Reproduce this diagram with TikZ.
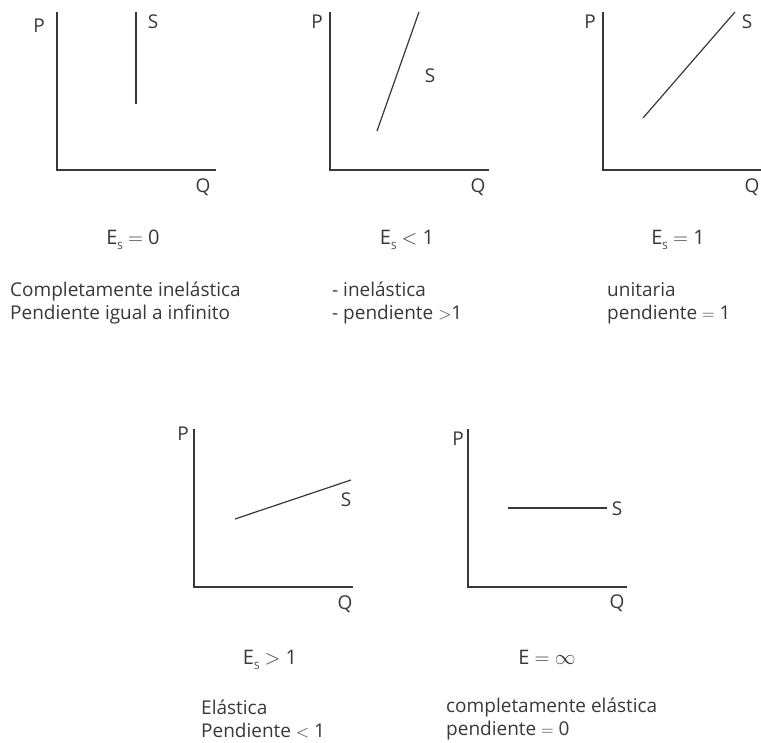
\documentclass[tikz,border=0pt]{standalone}
\usepackage{fontspec}
\setmainfont{Open Sans}
\usetikzlibrary{positioning}
\definecolor{elink}{HTML}{383838}
\newcommand{\subS}{\raisebox{-0.28em}{\fontsize{10}{10}\selectfont S}}
\tikzset{
  ax/.style={draw=elink, line width=1.7pt},
  crv/.style={draw=elink, line width=1.2pt},
  lab/.style={font=\fontsize{19}{21}\selectfont, text=elink, inner sep=0pt},
  eqn/.style={lab, font=\fontsize{20}{22}\selectfont},
  dsc/.style={lab, anchor=west, align=left, font=\fontsize{19}{23}\selectfont},
}
\begin{document}
\begin{tikzpicture}[x=1pt, y=-1pt]
  \useasboundingbox (0,0) rectangle (761,743);
  % axes of the five panels
  \foreach \n/\x/\y in {a/57/170, b/330/170, c/603/170, d/194/587, e/468/587} {
    \coordinate (o\n) at (\x,\y);
    \coordinate (p\n) at (\x,\y-158);
    \coordinate (q\n) at (\x+159,\y);
    \draw[ax] (p\n) -- (o\n) -- (q\n);
  }
  % axis labels
  \node[lab] (pla) at (39,26) {P};
  \node[lab] (qla) at (203,187) {Q};
  \node[lab] (plb) at (317,22) {P};
  \node[lab] (qlb) at (478,187) {Q};
  \node[lab] (plc) at (590,22) {P};
  \node[lab] (qlc) at (752,187) {Q};
  \node[lab] (pld) at (183,434) {P};
  \node[lab] (qld) at (345,604) {Q};
  \node[lab] (ple) at (458,439) {P};
  \node[lab] (qle) at (617,603) {Q};
  % supply curves
  \coordinate (sa0) at (136,104); \coordinate (sa1) at (136,12);
  \coordinate (sb0) at (377,131); \coordinate (sb1) at (419,12);
  \coordinate (sc0) at (643,118); \coordinate (sc1) at (735,12);
  \coordinate (sd0) at (235,519); \coordinate (sd1) at (351,480);
  \coordinate (se0) at (508,508); \coordinate (se1) at (607,508);
  \draw[crv] (sa0) -- (sa1);
  \draw[crv] (sb0) -- (sb1);
  \draw[crv] (sc0) -- (sc1);
  \draw[crv] (sd0) -- (sd1);
  \draw[crv] (se0) -- (se1);
  \node[lab] (sla) at (153,22) {S};
  \node[lab] (slb) at (430,76) {S};
  \node[lab] (slc) at (747,22) {S};
  \node[lab] (sld) at (346,500) {S};
  \node[lab] (sle) at (617,509) {S};
  % elasticities
  \node[eqn] (ea) at (133,240) {E\subS\ $=$ 0};
  \node[eqn] (eb) at (407,240) {E\subS\ $<$ 1};
  \node[eqn] (ec) at (678,240) {E\subS\ $=$ 1};
  \node[eqn] (ed) at (270,660) {E\subS\ $>$ 1};
  \node[eqn] (ee) at (547,657) {E $=$ $\infty$};
  % descriptions
  \node[dsc] (da) at (10,303) {Completamente inelástica\\Pendiente igual a infinito};
  \node[dsc] (db) at (332,303) {- inelástica\\- pendiente $>$1};
  \node[dsc] (dc) at (607,303) {unitaria\\pendiente $=$ 1};
  \node[dsc] (dd) at (201,719) {Elástica\\Pendiente $<$ 1};
  \node[dsc] (de) at (446,719) {completamente elástica\\pendiente $=$ 0};
\end{tikzpicture}
\end{document}
